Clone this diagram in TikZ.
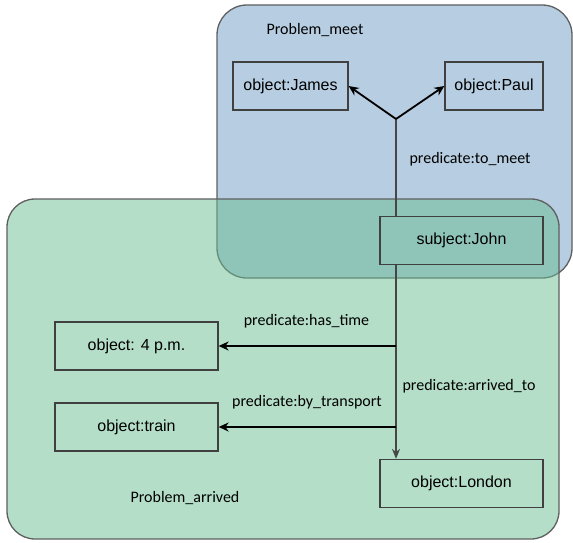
\documentclass[tikz,border=0pt]{standalone}
\usepackage{fontspec}
\setmainfont{Liberation Sans}
\newfontfamily\predfont{Carlito}
\usepackage{tikz}
\usetikzlibrary{arrows.meta}

\definecolor{meetblue}{RGB}{183,205,225}
\definecolor{arrivedgreen}{RGB}{105,189,145}
\definecolor{framegray}{RGB}{95,95,95}
\definecolor{boxgray}{RGB}{64,64,64}
\definecolor{linegray}{RGB}{70,70,70}

\begin{document}
\begin{tikzpicture}[x=1pt,y=-1pt,
        term/.style={draw=boxgray, line width=1.3pt, inner sep=0pt, minimum height=48pt,
          font=\fontsize{16}{19}\selectfont},
        pred/.style={inner sep=0pt, font=\predfont\fontsize{16}{19}\selectfont},
        strong/.style={line width=1.8pt, -{Stealth[length=10pt,width=9pt]}},
        weak/.style={line width=1.1pt, linegray}]
        \useasboundingbox (0,0) rectangle (573,543);

        % Problem areas
        \draw[rounded corners=30pt, fill=meetblue, draw=framegray, line width=1.3pt]
          (217,5) rectangle (572,278);
        \draw[rounded corners=28pt, fill=arrivedgreen, fill opacity=0.5, draw=framegray, line width=1.3pt]
          (7,199) rectangle (559,539);

        % Terms
        \node[term, minimum width=115pt] (james) at (290.5,86) {object:James};
        \node[term, minimum width=98pt] (paul) at (494,86) {object:Paul};
        \node[term, minimum width=163pt] (john) at (461.5,240.5) {subject:John};
        \node[term, minimum width=163pt] (fourpm) at (136.5,346) {object: 4 p.m.};
        \node[term, minimum width=163pt] (train) at (136.5,427) {object:train};
        \node[term, minimum width=163pt] (london) at (461.5,483.5) {object:London};

        % Forks of the predicates
        \coordinate (meetfork) at (396,119);
        \coordinate (timefork) at (396,346);
        \coordinate (transfork) at (396,427);

        % to_meet
        \draw[weak] (meetfork |- john.north) -- (meetfork);
        \draw[strong] (meetfork) -- (james.east);
        \draw[strong] (meetfork) -- (paul.west);

        % arrived_to, has_time, by_transport
        \draw[weak, -{Stealth[length=10pt,width=8pt]}] (meetfork |- john.south) -- (meetfork |- london.north);
        \draw[strong] (timefork) -- (fourpm.east);
        \draw[strong] (transfork) -- (train.east);

        % Labels
        \node[pred] (meetname) at (315,30) {Problem\_meet};
        \node[pred] (tomeet) at (470,159) {predicate:to\_meet};
        \node[pred] (hastime) at (306.5,321) {predicate:has\_time};
        \node[pred] (arrivedto) at (469,386) {predicate:arrived\_to};
        \node[pred] (bytransport) at (307,402) {predicate:by\_transport};
        \node[pred] (arrivedname) at (185,498) {Problem\_arrived};
    \end{tikzpicture}
\end{document}
